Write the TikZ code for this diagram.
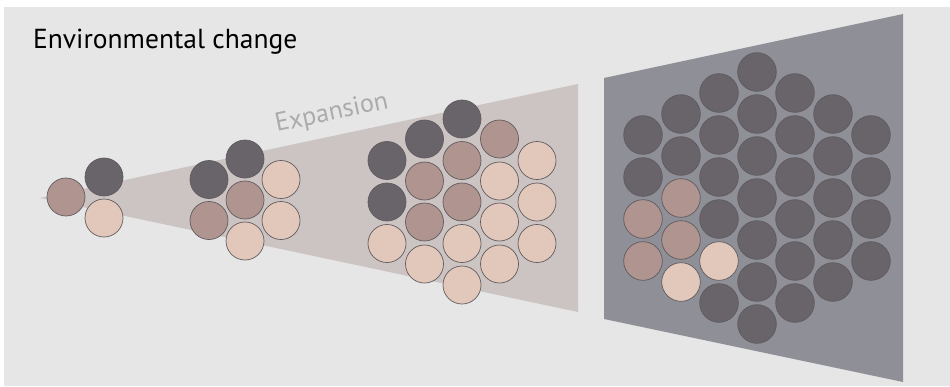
\documentclass[tikz,border=0pt]{standalone}
\usepackage{fontspec}
\setmainfont{PT Sans}

\definecolor{pagebg}{HTML}{E6E6E6}
\definecolor{wedge}{HTML}{CCC4C2}
\definecolor{panel}{HTML}{8F8F98}
\definecolor{celldark}{HTML}{69646A}
\definecolor{cellmauve}{HTML}{B0948F}
\definecolor{cellpeach}{HTML}{E2C8BB}
\definecolor{cellrim}{HTML}{5E5A5E}

\tikzset{
  dk/.style={fill=celldark, draw=cellrim, line width=0.7pt},
  mv/.style={fill=cellmauve, draw=cellrim, line width=0.7pt},
  pc/.style={fill=cellpeach, draw=cellrim, line width=0.7pt}
}

\begin{document}
\begin{tikzpicture}[x=1pt, y=-1pt]
  \useasboundingbox (0,0) rectangle (950,386);
  \fill[white] (0,0) rectangle (950,386);
  \fill[pagebg] (4,7) rectangle (950,386);

  \node[anchor=base west, inner sep=0pt, font=\fontsize{27.5}{32}\selectfont] (title) at (33,48) {Environmental change};

  \coordinate (tip) at (40,198);
  \coordinate (wtop) at (578,84);
  \coordinate (wbot) at (578,312);
  \fill[wedge] (tip) -- (wtop) -- (wbot) -- cycle;
  \node[anchor=base west, inner sep=0pt, rotate=12, text=black!33, font=\fontsize{26}{30}\selectfont] (expansion) at (277,132) {Expansion};

  \fill[panel] (604,78) -- (903,14) -- (903,382) -- (604,319) -- cycle;

  % three cells
  \foreach \x/\y/\s in {66/197/mv, 104/177/dk, 104/218/pc}
    \draw[\s] (\x,\y) circle[radius=19pt];

  % seven cells
  \foreach \x/\y/\s in {209/179.5/dk, 209/220.5/mv,
                        245/159/dk, 245/200/mv, 245/241/pc,
                        281/179.5/pc, 281/220.5/pc}
    \draw[\s] (\x,\y) circle[radius=19pt];

  % nineteen cells
  \foreach \x/\y/\s in {387/160.5/dk, 387/202/dk, 387/243.5/pc,
                        424.5/139/dk, 424.5/181/mv, 424.5/222/mv, 424.5/264/pc,
                        462/119/dk, 462/160.5/mv, 462/202/mv, 462/243.5/pc, 462/285/pc,
                        499.5/139/mv, 499.5/181/pc, 499.5/222/pc, 499.5/264/pc,
                        537/160.5/pc, 537/202/pc, 537/243.5/pc}
    \draw[\s] (\x,\y) circle[radius=19pt];

  % after the change
  \foreach \x/\y/\s in {643/135/dk, 643/177/dk, 643/219/mv, 643/261/mv,
                        681/114/dk, 681/156/dk, 681/198/mv, 681/240/mv, 681/282/pc,
                        719/93/dk, 719/135/dk, 719/177/dk, 719/219/dk, 719/261/pc, 719/303/dk}
    \draw[\s] (\x,\y) circle[radius=19.3pt];
  \foreach \y in {72,114,156,198,240,282,324}
    \draw[dk] (757,\y) circle[radius=19.3pt];
  \foreach \y in {93,135,177,219,261,303}
    \draw[dk] (795,\y) circle[radius=19.3pt];
  \foreach \y in {114,156,198,240,282}
    \draw[dk] (833,\y) circle[radius=19.3pt];
  \foreach \y in {135,177,219,261}
    \draw[dk] (871,\y) circle[radius=19.3pt];
\end{tikzpicture}
\end{document}
